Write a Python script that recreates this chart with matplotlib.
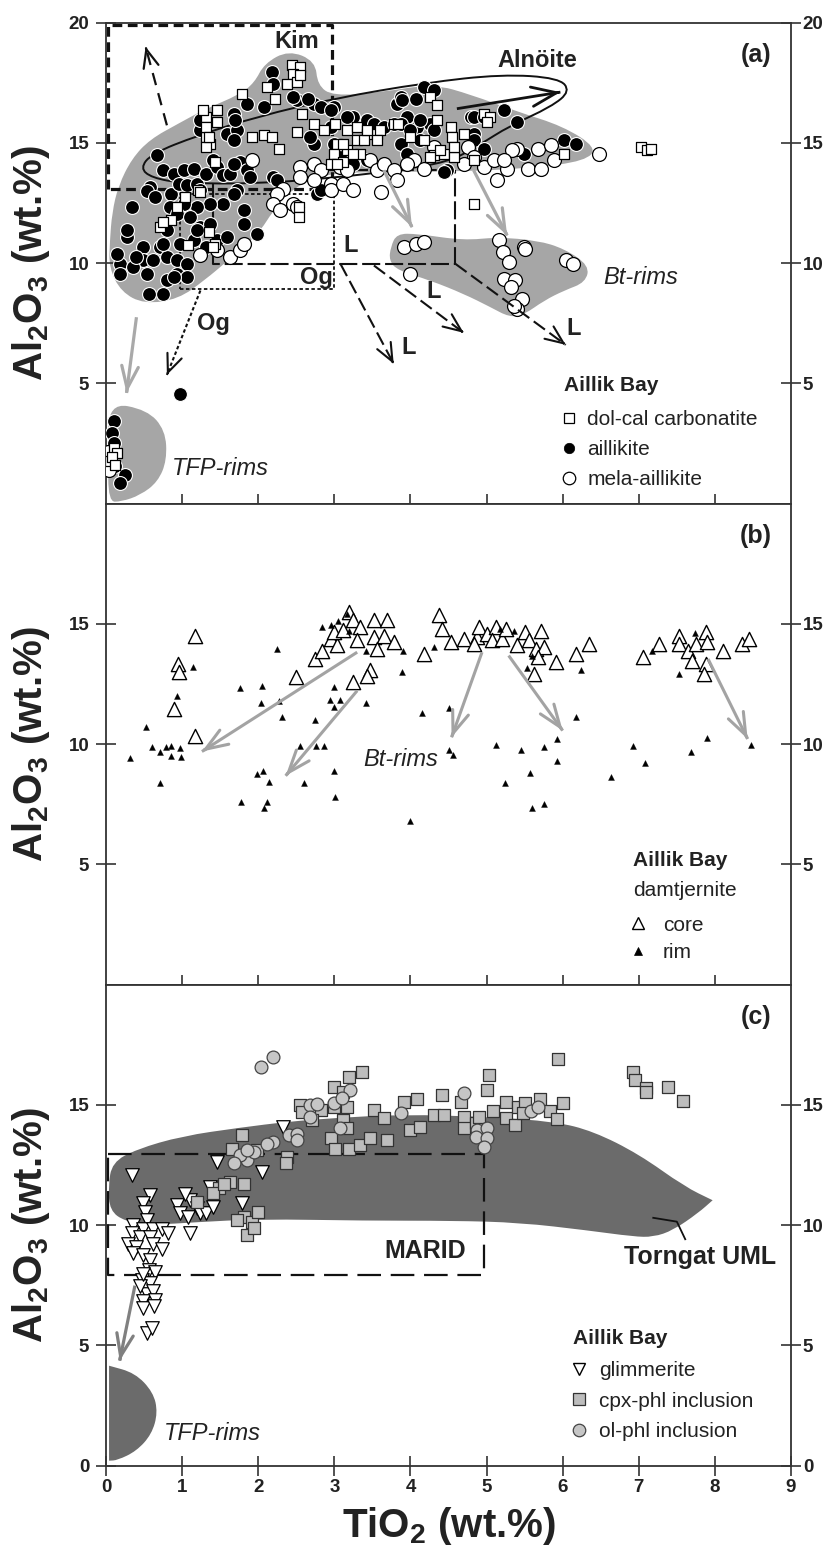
import matplotlib
matplotlib.use('Agg')
import matplotlib.pyplot as plt
from matplotlib.path import Path
from matplotlib.patches import PathPatch
from matplotlib.lines import Line2D

plt.rcParams['font.family'] = ['Liberation Sans', 'DejaVu Sans']
plt.rcParams['font.weight'] = 'bold'
plt.rcParams['mathtext.fontset'] = 'custom'
plt.rcParams['mathtext.rm'] = 'Liberation Sans:bold'
plt.rcParams['mathtext.it'] = 'Liberation Sans:bold'
plt.rcParams['mathtext.bf'] = 'Liberation Sans:bold'
plt.rcParams['mathtext.default'] = 'rm'
plt.rcParams['lines.scale_dashes'] = False

# ---------------- data: panel (a) ----------------
aillikite = [(0.10,3.45),(0.08,2.95),(0.10,2.50),(0.06,2.00),(0.12,1.55),(0.25,1.20),(0.18,0.85),
    (0.97,4.56),
    (0.67,14.48),(0.75,13.86),(0.89,13.72),(1.02,13.86),(1.15,13.93),(0.58,13.16),(0.54,13.00),(0.64,12.75),
    (0.34,12.33),(0.86,12.89),(0.96,13.30),(1.06,13.23),(1.19,13.30),(1.32,13.72),(1.24,13.02),(1.46,13.99),
    (1.54,13.65),(1.63,13.72),(1.76,14.20),(1.85,13.86),(1.89,13.58),(1.72,13.02),(1.54,12.47),(1.37,12.47),
    (1.19,12.33),(1.02,12.47),(0.84,12.33),(0.93,12.05),(1.11,11.91),(1.24,11.50),(1.37,11.64),(1.68,12.88),
    (1.81,12.19),(1.81,11.64),(1.98,11.22),(0.80,11.36),(0.71,10.67),(0.27,11.08),(0.18,9.97),(0.49,10.67),
    (0.49,10.11),(0.36,9.83),(0.62,10.11),(0.80,10.25),(0.93,10.11),(1.06,9.97),(0.93,9.56),(1.06,9.42),
    (1.15,10.94),(1.32,10.67),(1.46,10.94),(1.59,11.08),(0.97,10.80),(1.19,11.36),(2.77,12.88),(2.20,13.58),
    (2.25,13.44),(2.82,13.02),(0.14,10.39),(0.18,9.56),(0.40,10.25),(0.54,9.56),(0.56,8.72),(0.75,8.72),
    (0.80,9.28),(0.89,9.42),(0.27,11.36),(0.75,10.80),
    (1.24,15.52),(1.59,15.38),(1.72,15.52),(1.68,15.10),(2.07,16.49),(1.85,16.63),(2.51,16.77),(2.73,16.63),
    (2.82,16.49),(2.99,16.49),(2.73,14.97),(2.99,14.97),(2.68,15.24),(2.95,15.66),(3.25,16.07),(3.43,15.94),
    (3.52,15.80),(3.65,15.66),(3.78,15.80),(3.82,16.63),(3.87,16.91),(3.96,16.07),(4.09,15.66),(4.26,15.80),
    (4.31,15.52),(3.87,14.97),(4.13,15.10),(3.96,14.55),(3.25,14.13),(3.43,14.27),(3.08,14.41),(4.48,13.86),
    (4.79,16.07),(4.83,15.38),(2.18,17.95),(2.46,16.91),(2.65,16.84),(1.68,16.21),(1.70,15.94),(1.24,15.94),
    (1.41,14.27),(1.68,14.13),(2.20,17.46),(4.18,17.32),(4.31,17.18),(3.89,16.77),(4.07,16.84),(2.95,16.35),
    (3.17,16.07),(3.87,15.80),(4.00,15.52),(4.13,15.94),(4.83,16.07),(4.96,16.07),(5.23,16.35),(5.40,15.87),
    (4.83,15.10),(4.96,14.76),(4.44,13.79),(6.02,15.10),(6.17,14.97),(5.49,14.55)]

mela_aillikite = [(0.02,2.15),(0.04,1.40),
    (1.92,14.27),(2.55,13.99),(2.55,13.58),(2.73,14.13),(2.82,13.86),(2.33,13.09),(2.25,12.88),(2.20,12.47),
    (2.29,12.19),(2.46,12.47),(2.51,12.33),(2.73,13.44),(2.95,13.30),(2.95,13.02),(3.12,13.30),(3.25,13.02),
    (3.08,13.99),(3.47,14.27),(3.56,13.86),(3.65,14.13),(3.78,13.86),(3.82,13.44),(3.61,12.95),(4.04,14.27),
    (4.18,13.93),(4.31,14.83),(4.75,14.83),(4.83,14.41),(1.24,10.32),(1.46,10.53),(1.63,10.25),(1.76,10.53),
    (1.81,10.80),(4.70,14.13),(4.96,13.99),(5.10,14.27),(5.14,13.44),(5.27,13.93),(5.40,14.76),(5.54,13.93),
    (5.71,13.93),(5.67,14.76),(5.84,14.90),(5.88,14.27),(5.34,14.69),(6.48,14.55),(3.17,13.86),(3.96,14.13),
    (5.23,14.27),
    (3.91,10.67),(4.07,10.80),(4.18,10.87),(3.99,9.56),(5.16,10.94),(5.21,10.46),(5.49,10.67),(5.51,10.60),
    (5.29,10.04),(5.23,9.35),(5.38,9.28),(5.32,9.00),(5.47,8.52),(5.40,8.10),(5.36,8.22),(6.04,10.14),(6.13,9.97)]

carbonatite = [(0.10,2.30),(0.05,1.75),(0.15,2.10),(0.08,1.95),(0.12,1.60),
    (2.44,18.22),(2.55,18.16),(2.46,17.88),(2.38,17.46),(2.51,17.53),(2.55,17.81),(2.11,17.32),(2.22,16.84),
    (1.79,17.05),(1.32,16.07),(1.46,15.87),(1.32,15.24),(1.37,14.97),(1.32,14.83),(1.43,14.20),(1.92,15.24),
    (2.07,15.31),(2.18,15.24),(2.27,14.76),(2.57,16.21),(2.51,15.45),(2.73,15.80),(2.86,15.52),(3.01,15.80),
    (3.17,15.52),(3.30,15.66),(3.03,14.97),(3.17,14.69),(3.30,15.10),(3.43,15.38),(3.56,15.38),(3.34,14.55),
    (2.99,14.55),(2.95,14.13),(3.12,14.20),(3.78,15.80),(4.26,16.91),(4.35,16.56),(4.35,15.94),(4.53,15.66),
    (4.70,15.38),(4.18,15.10),(4.31,14.48),(4.44,14.55),(4.57,14.41),(4.83,14.27),(0.71,11.50),(0.86,11.78),
    (1.04,12.75),(0.93,12.33),(1.21,13.02),(1.35,11.29),(1.08,10.74),(1.43,10.80),(2.53,12.33),(2.53,11.91),
    (4.83,12.47),(4.55,15.24),(4.57,14.83),(4.00,15.24),(4.39,14.69),(4.26,14.41),(3.83,15.80),(3.60,15.52),
    (3.56,15.10),(3.39,15.10),(3.43,15.52),(3.12,14.97),(3.25,14.55),(3.03,14.13),(4.96,16.21),(5.04,16.07),
    (5.00,15.87),(6.02,14.55),(7.03,14.83),(7.11,14.69),(7.16,14.76),(1.24,12.95),(0.75,11.71),(1.41,10.67),
    (1.28,16.35),(1.46,16.35),(1.32,15.66),(1.35,15.24)]

# ---------------- data: panel (b) ----------------
core = [(1.17,14.51),(0.95,13.33),(0.96,12.99),(0.89,11.46),(1.17,10.35),(2.49,12.78),(2.75,13.54),(2.84,13.89),
    (2.95,14.38),(3.04,14.10),(3.19,15.49),(3.25,15.14),(3.34,14.86),(3.52,15.14),(3.69,15.14),(3.52,14.44),
    (3.65,14.51),(3.78,14.24),(3.56,13.96),(3.30,14.31),(3.47,13.06),(3.43,12.85),(3.25,12.57),(4.18,13.75),
    (4.37,15.35),(4.42,14.79),(4.53,14.24),(4.70,14.38),(4.88,14.44),(2.99,14.65),(3.12,14.75),
    (4.90,14.86),(4.83,14.17),(5.01,14.58),(5.12,14.86),(5.07,14.31),(5.20,14.38),(5.25,14.79),(5.40,14.10),
    (5.51,14.65),(5.56,14.31),(5.71,14.72),(5.65,13.96),(5.75,14.03),(5.67,13.61),(5.62,12.92),(5.91,13.40),
    (6.17,13.75),(6.34,14.17),(7.05,13.61),(7.27,14.17),(7.53,14.51),(7.53,14.17),(7.64,13.89),(7.70,13.47),
    (7.75,14.17),(7.88,14.65),(7.90,14.24),(7.88,13.33),(7.86,12.92),(8.10,13.89),(8.36,14.17),(8.45,14.38)]

rim = [(0.32,9.44),(0.52,10.69),(0.61,9.86),(0.71,9.65),(0.79,9.86),(0.86,9.93),(0.97,9.83),(0.86,9.51),
    (0.99,9.47),(0.71,8.40),(0.93,12.01),(1.14,13.19),(2.25,13.96),(1.76,12.33),(2.05,12.43),(2.04,11.69),
    (2.27,11.81),(2.31,11.11),(2.75,11.01),(2.55,9.93),(2.76,9.93),(2.87,9.93),(2.99,12.39),(2.94,11.85),
    (3.07,11.85),(2.99,11.56),(3.41,11.69),(1.98,8.75),(2.06,8.86),(2.14,8.44),(2.60,8.40),(2.99,8.86),
    (1.77,7.57),(2.11,7.61),(2.07,7.33),(3.01,7.78),(3.89,12.99),(3.90,13.86),(3.41,13.89),(4.31,14.03),
    (4.15,11.29),(4.50,11.50),(4.50,9.75),(4.56,9.56),(3.99,6.78),(2.84,14.86),(3.17,15.42),(3.19,14.72),
    (2.95,14.95),(3.05,15.10),(5.12,9.97),(5.45,9.75),(5.75,9.86),(5.92,10.21),(5.93,9.31),(5.57,8.78),
    (5.24,8.40),(5.60,7.33),(5.75,7.50),(6.17,11.11),(6.24,13.06),(5.53,13.15),(6.63,8.64),(6.92,9.90),
    (7.08,9.21),(7.17,13.85),(7.53,12.92),(7.74,14.61),(7.68,9.68),(7.90,10.25),(8.47,9.97),(5.18,14.79),
    (5.36,14.69),(5.60,13.68)]

# ---------------- data: panel (c) ----------------
glimmerite = [(0.34,12.07),(0.58,11.24),(0.49,10.90),(0.51,10.55),(0.54,10.20),(0.36,9.99),(0.49,9.85),
    (0.62,9.85),(0.73,9.85),(0.82,9.65),(0.34,9.65),(0.45,9.51),(0.58,9.51),(0.29,9.23),(0.40,9.09),(0.62,9.23),
    (0.73,9.02),(0.36,8.82),(0.49,8.75),(0.58,8.54),(0.56,8.13),(0.64,8.05),(0.47,7.71),(0.58,7.57),(0.54,7.15),
    (0.45,7.48),(0.62,7.27),(0.49,6.83),(0.64,6.90),(0.54,5.52),(0.60,5.70),(0.48,6.57),(0.63,6.65),(0.49,7.96),
    (0.93,10.82),(0.97,10.48),(1.10,11.03),(1.04,11.31),(1.19,10.69),(1.08,10.34),(1.10,9.65),(1.24,10.48),
    (1.32,10.48),(1.41,10.76),(1.37,11.59),(1.46,12.63),(2.05,12.21),(1.79,10.92),(2.33,14.06)]

cpx_phl = [(1.79,13.73),(1.65,13.18),(1.98,13.11),(1.63,11.80),(1.81,11.70),(1.48,11.52),(1.19,10.97),
    (2.38,12.84),(2.36,12.56),(1.81,10.34),(1.92,10.13),(2.00,10.55),(1.72,10.20),(1.85,9.58),(1.94,9.86),
    (2.55,14.99),(2.57,14.71),(2.82,14.78),(2.71,14.37),(2.99,15.75),(3.19,16.17),(3.36,16.37),(3.12,15.54),
    (2.99,14.92),(3.17,14.92),(3.12,14.37),(3.17,14.02),(2.95,13.60),(3.01,13.18),(3.19,13.18),(3.34,13.32),
    (3.47,13.60),(3.69,13.53),(3.52,14.78),(3.65,14.43),(3.91,15.12),(4.09,15.26),(4.00,13.95),(4.13,14.09),
    (4.31,14.57),(4.44,14.57),(4.42,15.40),(4.66,15.12),(4.70,14.50),(4.70,14.02),(4.86,14.23),(5.01,15.61),
    (5.03,16.24),(5.25,15.12),(5.25,14.43),(4.90,14.50),(5.08,14.74),(5.38,14.17),(5.41,14.90),(5.50,15.06),
    (5.48,14.66),(5.70,15.22),(5.83,14.74),(5.92,14.41),(6.00,15.06),(5.94,16.91),(6.93,16.35),(6.95,16.03),
    (7.10,15.71),(7.10,15.55),(7.38,15.74),(7.58,15.14),(1.40,11.35),(1.55,11.70)]

ol_phl = [(2.03,16.58),(2.20,17.00),(2.68,14.99),(2.77,15.05),(3.21,15.61),(1.85,12.70),(1.76,12.91),
    (1.94,13.04),(1.68,12.56),(2.20,13.46),(2.11,13.39),(2.40,13.73),(2.51,13.80),(2.51,13.53),(2.68,14.50),
    (3.08,14.02),(3.87,14.64),(4.70,15.47),(4.88,13.95),(5.01,14.02),(4.86,13.67),(5.01,13.60),(4.96,13.25),
    (5.58,14.74),(5.67,14.90),(2.99,15.06),(1.85,13.12),(3.10,15.30)]

# ---------------- field outlines ----------------
field_main = [(0.05,10.9),(0.08,12.1),(0.16,13.2),(0.34,14.35),(0.58,15.15),(0.95,15.8),(1.3,16.4),(1.75,17.0),
    (1.95,17.5),(2.08,18.3),(2.4,18.85),(2.75,18.4),(2.78,17.4),(2.98,16.95),(3.6,17.1),(4.3,17.45),(4.8,17.0),
    (5.4,16.3),(6.0,15.7),(6.45,14.8),(6.3,14.25),(5.6,13.95),(4.6,13.8),(3.5,13.8),(2.85,13.7),(2.45,13.1),
    (2.2,12.2),(2.0,11.2),(1.6,10.1),(1.3,9.3),(0.95,8.5),(0.5,8.3),(0.2,8.8),(0.04,9.8)]
field_btrims = [(3.74,10.67),(3.82,11.22),(4.09,11.22),(4.7,10.94),(5.14,11.08),(5.67,10.94),(6.02,10.6),
    (6.35,9.9),(6.3,9.2),(6.02,8.86),(5.76,8.45),(5.49,7.85),(5.3,7.75),(5.05,8.17),(4.7,8.72),(4.26,9.28),
    (3.83,9.7),(3.72,10.11)]
field_tfp_a = [(0.03,4.2),(0.54,3.9),(0.78,3.05),(0.8,1.8),(0.68,0.9),(0.45,0.35),(0.2,0.08),(0.03,0.08),(0.03,2.0)]
alnoite = [(0.45,13.95),(0.6,14.55),(1.2,15.3),(2.0,16.1),(3.0,16.85),(4.2,17.5),(5.2,17.85),(5.95,17.7),
    (6.1,17.15),(5.85,16.5),(5.3,15.7),(4.9,14.9),(4.5,14.2),(3.8,13.85),(3.0,13.55),(2.0,13.3),(1.0,13.32),(0.6,13.55)]
field_torngat = [(0.03,11.6),(0.08,12.6),(0.4,13.15),(1.0,13.7),(1.76,14.05),(2.4,14.3),(3.0,14.45),(3.9,14.6),
    (5.0,14.5),(5.9,14.3),(6.4,13.9),(7.0,12.95),(7.6,11.6),(7.97,11.03),(7.97,11.03),(7.78,10.5),(7.45,9.78),
    (7.19,9.5),(6.93,9.52),(6.32,9.78),(5.44,10.1),(4.56,10.18),(3.4,10.18),(2.0,10.25),(1.2,10.12),(0.6,10.0),
    (0.25,10.15),(0.05,10.6)]
field_tfp_c = [(0.04,4.15),(0.04,4.15),(0.38,3.85),(0.62,3.05),(0.68,2.2),(0.6,1.3),(0.4,0.6),(0.15,0.22),
    (0.04,0.2),(0.04,0.2),(0.04,2.2)]

GRAY_A = '#a6a6a6'
DARK_C = '#6b6b6b'
AX_COL = '#333333'


def smooth_field(ax, pts, **kw):
    n = len(pts)
    mids = [((pts[i][0] + pts[(i + 1) % n][0]) / 2, (pts[i][1] + pts[(i + 1) % n][1]) / 2) for i in range(n)]
    verts = [mids[-1]]
    codes = [Path.MOVETO]
    for i in range(n):
        verts += [pts[i], mids[i]]
        codes += [Path.CURVE3, Path.CURVE3]
    ax.add_patch(PathPatch(Path(verts, codes), **kw))


def arrow(ax, p0, p1, color, lw, ls='-', hl=1.3, hw=0.55, z=6):
    (x0, y0), (x1, y1) = p0, p1
    ax.plot([x0, x1], [y0, y1], color=color, lw=lw, ls=ls, zorder=z, solid_capstyle='butt')
    ax.annotate('', xy=(x1, y1), xytext=(x1 - (x1 - x0) * 0.02, y1 - (y1 - y0) * 0.02),
                arrowprops=dict(arrowstyle='->,head_length=%g,head_width=%g' % (hl, hw),
                                color=color, lw=lw, shrinkA=0, shrinkB=0), zorder=z)


def xs(p):
    return [q[0] for q in p]


def ys(p):
    return [q[1] for q in p]


def setup(ax, yt, xt, xlabels):
    ax.set_xlim(0, 9)
    ax.set_ylim(0, 20)
    ax.set_yticks(yt)
    ax.set_xticks(xt)
    for s in ax.spines.values():
        s.set_color(AX_COL)
        s.set_linewidth(1.3)
    ax.tick_params(direction='inout', length=15, width=1.2, color=AX_COL, labelsize=13.5, labelcolor='#222222')
    ax.tick_params(axis='y', pad=4.5)
    ax.tick_params(axis='x', top=False, bottom=True, labelbottom=xlabels, pad=2)
    tw = ax.twinx()
    tw.set_ylim(0, 20)
    tw.set_yticks(yt)
    tw.tick_params(direction='inout', length=15, width=1.2, color=AX_COL, labelsize=13.5, labelcolor='#222222', pad=1)
    for s in tw.spines.values():
        s.set_visible(False)
    ax.text(-0.1095, 0.5, r'Al$_2$O$_3$ (wt.%)', transform=ax.transAxes, rotation=90,
            ha='center', va='center', fontsize=29, color='#222222')


fig = plt.figure(figsize=(8.4, 15.49), dpi=100)
L, W, H = 0.1262, 0.8155, 0.3105
axA = fig.add_axes([L, 0.6749, W, H])
axB = fig.add_axes([L, 0.3644, W, H])
axC = fig.add_axes([L, 0.0539, W, H])

# =================== panel (a) ===================
ax = axA
smooth_field(ax, field_main, facecolor=GRAY_A, edgecolor='none', zorder=1)
smooth_field(ax, field_btrims, facecolor=GRAY_A, edgecolor='none', zorder=1)
smooth_field(ax, field_tfp_a, facecolor=GRAY_A, edgecolor='none', zorder=1)
smooth_field(ax, alnoite, facecolor='none', edgecolor='#111111', lw=1.4, zorder=2)
# Kim box
ax.plot([0.03, 0.03, 2.97, 2.97, 0.03], [13.1, 19.9, 19.9, 13.1, 13.1], color='#111111', lw=2.3,
        ls=(0, (7, 4)), zorder=2)
# Og box
ax.plot([0.97, 3.0, 3.0, 0.97, 0.97], [8.93, 8.93, 12.88, 12.88, 8.93], color='#111111', lw=1.3,
        ls=(0, (2.5, 1.8)), zorder=2)
# L box
ax.plot([1.41, 1.41, 4.59, 4.59], [13.3, 9.97, 9.97, 13.86], color='#111111', lw=1.5,
        ls=(0, (13, 3.5)), zorder=2)
ax.plot([2.9, 4.59], [13.86, 13.86], color='#111111', lw=1.5, ls=(0, (13, 3.5)), zorder=2)

ax.scatter(xs(aillikite), ys(aillikite), s=100, marker='o', facecolor='black', edgecolor='white', linewidths=0.8, zorder=3)
ax.scatter(xs(mela_aillikite), ys(mela_aillikite), s=100, marker='o', facecolor='white', edgecolor='black', linewidths=0.9, zorder=3)
ax.scatter(xs(carbonatite), ys(carbonatite), s=52, marker='s', facecolor='white', edgecolor='black', linewidths=0.9, zorder=3)

# arrows
arrow(ax, (0.8, 15.73), (0.52, 19.0), '#111111', 1.6, ls=(0, (9, 6)))
arrow(ax, (1.24, 8.86), (0.8, 5.35), '#111111', 1.5, ls=(0, (2.5, 1.8)))
arrow(ax, (3.08, 9.97), (3.78, 5.81), '#111111', 1.5, ls=(0, (10, 4)))
arrow(ax, (3.52, 9.9), (4.7, 7.1), '#111111', 1.5, ls=(0, (10, 4)))
arrow(ax, (4.59, 9.97), (6.04, 6.6), '#111111', 1.5, ls=(0, (10, 4)))
arrow(ax, (4.61, 16.42), (5.97, 17.11), '#111111', 2.0, hl=1.8, hw=0.7)
arrow(ax, (0.4, 7.75), (0.27, 4.6), '#a9a9a9', 2.3, hl=1.6, hw=0.6)
arrow(ax, (3.65, 13.86), (4.02, 11.5), '#a9a9a9', 2.3, hl=1.6, hw=0.6)
arrow(ax, (4.83, 13.86), (5.27, 11.15), '#a9a9a9', 2.3, hl=1.6, hw=0.6)

kw_lab = dict(fontsize=17, fontweight='bold', color='#222222', ha='center', va='center', zorder=7)
ax.text(2.51, 19.2, 'Kim', **kw_lab)
ax.text(5.67, 18.43, 'Alnöite', **kw_lab)
ax.text(2.77, 9.42, 'Og', **kw_lab)
ax.text(1.41, 7.48, 'Og', **kw_lab)
ax.text(3.21, 10.75, 'L', **kw_lab)
ax.text(4.31, 8.8, 'L', **kw_lab)
ax.text(6.15, 7.3, 'L', **kw_lab)
ax.text(3.98, 6.5, 'L', **kw_lab)
ax.text(8.54, 18.64, '(a)', fontsize=18, fontweight='bold', color='#222222', ha='center', va='center')
ax.text(7.03, 9.4, 'Bt-rims', fontsize=17, fontweight='normal', style='italic', color='#222222', ha='center', va='center')
ax.text(1.5, 1.45, 'TFP-rims', fontsize=17, fontweight='normal', style='italic', color='#222222', ha='center', va='center')
ax.text(6.02, 4.91, 'Aillik Bay', fontsize=15, fontweight='bold', color='#222222', ha='left', va='center')
hA = [Line2D([], [], ls='none', marker='s', ms=7, mfc='white', mec='black', mew=0.9),
      Line2D([], [], ls='none', marker='o', ms=7.5, mfc='black', mec='black', mew=0.5),
      Line2D([], [], ls='none', marker='o', ms=9, mfc='white', mec='black', mew=0.9)]
ax.legend(hA, ['dol-cal carbonatite', 'aillikite', 'mela-aillikite'], loc='upper left',
          bbox_to_anchor=(5.97, 3.9), bbox_transform=ax.transData, frameon=False,
          prop={'size': 15, 'weight': 'normal'}, handlelength=0.8, handletextpad=0.5,
          labelspacing=0.54, borderpad=0, borderaxespad=0, labelcolor='#222222')
setup(ax, [5, 10, 15, 20], list(range(1, 9)), False)

# =================== panel (b) ===================
ax = axB
ax.scatter(xs(core), ys(core), s=105, marker='^', facecolor='white', edgecolor='black', linewidths=1.0, zorder=3)
ax.scatter(xs(rim), ys(rim), s=18, marker='^', facecolor='black', edgecolor='black', linewidths=0.3, zorder=4)
for p0, p1 in [((3.3, 13.82), (1.26, 9.69)), ((3.3, 12.22), (2.36, 8.68)), ((4.94, 13.82), (4.54, 10.28)),
               ((5.29, 13.68), (6.0, 10.56)), ((7.91, 13.54), (8.43, 10.21))]:
    arrow(ax, p0, p1, '#a3a3a3', 2.2, hl=1.6, hw=0.6)
ax.text(3.87, 9.35, 'Bt-rims', fontsize=17, fontweight='normal', style='italic', color='#222222', ha='center', va='center')
ax.text(8.54, 18.64, '(b)', fontsize=18, fontweight='bold', color='#222222', ha='center', va='center')
ax.text(6.92, 5.14, 'Aillik Bay', fontsize=15, fontweight='bold', color='#222222', ha='left', va='center')
ax.text(6.92, 3.89, 'damtjernite', fontsize=15, fontweight='normal', color='#222222', ha='left', va='center')
hB = [Line2D([], [], ls='none', marker='^', ms=9, mfc='white', mec='black', mew=1.0),
      Line2D([], [], ls='none', marker='^', ms=6, mfc='black', mec='black', mew=0.5)]
ax.legend(hB, ['core', 'rim'], loc='upper left', bbox_to_anchor=(6.88, 2.86), bbox_transform=ax.transData,
          frameon=False, prop={'size': 15, 'weight': 'normal'}, handlelength=0.8, handletextpad=0.8,
          labelspacing=0.4, borderpad=0, borderaxespad=0, labelcolor='#222222')
setup(ax, [5, 10, 15], list(range(1, 9)), False)

# =================== panel (c) ===================
ax = axC
smooth_field(ax, field_torngat, facecolor=DARK_C, edgecolor='none', zorder=1)
smooth_field(ax, field_tfp_c, facecolor=DARK_C, edgecolor='none', zorder=1)
ax.plot([0.03, 4.96, 4.96, 0.03, 0.03], [12.95, 12.95, 7.94, 7.94, 12.95], color='#111111', lw=1.6,
        ls=(0, (17, 7)), zorder=2)
ax.scatter(xs(glimmerite), ys(glimmerite), s=95, marker='v', facecolor='white', edgecolor='black', linewidths=0.9, zorder=3)
ax.scatter(xs(cpx_phl), ys(cpx_phl), s=64, marker='s', facecolor='#bdbdbd', edgecolor='#333333', linewidths=0.9, zorder=3)
ax.scatter(xs(ol_phl), ys(ol_phl), s=85, marker='o', facecolor='#c6c6c6', edgecolor='#444444', linewidths=0.9, zorder=3)
arrow(ax, (0.38, 7.48), (0.18, 4.36), '#808080', 2.3, hl=1.6, hw=0.6)
ax.plot([7.19, 7.5, 7.61], [10.3, 10.14, 9.41], color='#111111', lw=1.3, zorder=5)
ax.text(4.2, 8.9, 'MARID', fontsize=18, fontweight='bold', color='#222222', ha='center', va='center', zorder=7)
ax.text(7.8, 8.69, 'Torngat UML', fontsize=18, fontweight='bold', color='#222222', ha='center', va='center', zorder=7)
ax.text(1.4, 1.34, 'TFP-rims', fontsize=17, fontweight='normal', style='italic', color='#222222', ha='center', va='center')
ax.text(8.54, 18.64, '(c)', fontsize=18, fontweight='bold', color='#222222', ha='center', va='center')
ax.text(6.14, 5.3, 'Aillik Bay', fontsize=15, fontweight='bold', color='#222222', ha='left', va='center')
hC = [Line2D([], [], ls='none', marker='v', ms=9, mfc='white', mec='black', mew=1.0),
      Line2D([], [], ls='none', marker='s', ms=8, mfc='#bdbdbd', mec='#333333', mew=0.9),
      Line2D([], [], ls='none', marker='o', ms=9, mfc='#c6c6c6', mec='#444444', mew=0.9)]
ax.legend(hC, ['glimmerite', 'cpx-phl inclusion', 'ol-phl inclusion'], loc='upper left',
          bbox_to_anchor=(6.1, 4.33), bbox_transform=ax.transData, frameon=False,
          prop={'size': 15, 'weight': 'normal'}, handlelength=0.8, handletextpad=0.6,
          labelspacing=0.54, borderpad=0, borderaxespad=0, labelcolor='#222222')
setup(ax, [0, 5, 10, 15], list(range(0, 10)), True)
ax.text(0.5, -0.126, r'TiO$_2$ (wt.%)', transform=ax.transAxes, ha='center', va='center',
        fontsize=29, color='#222222')

fig.savefig('out.png', dpi=100)
